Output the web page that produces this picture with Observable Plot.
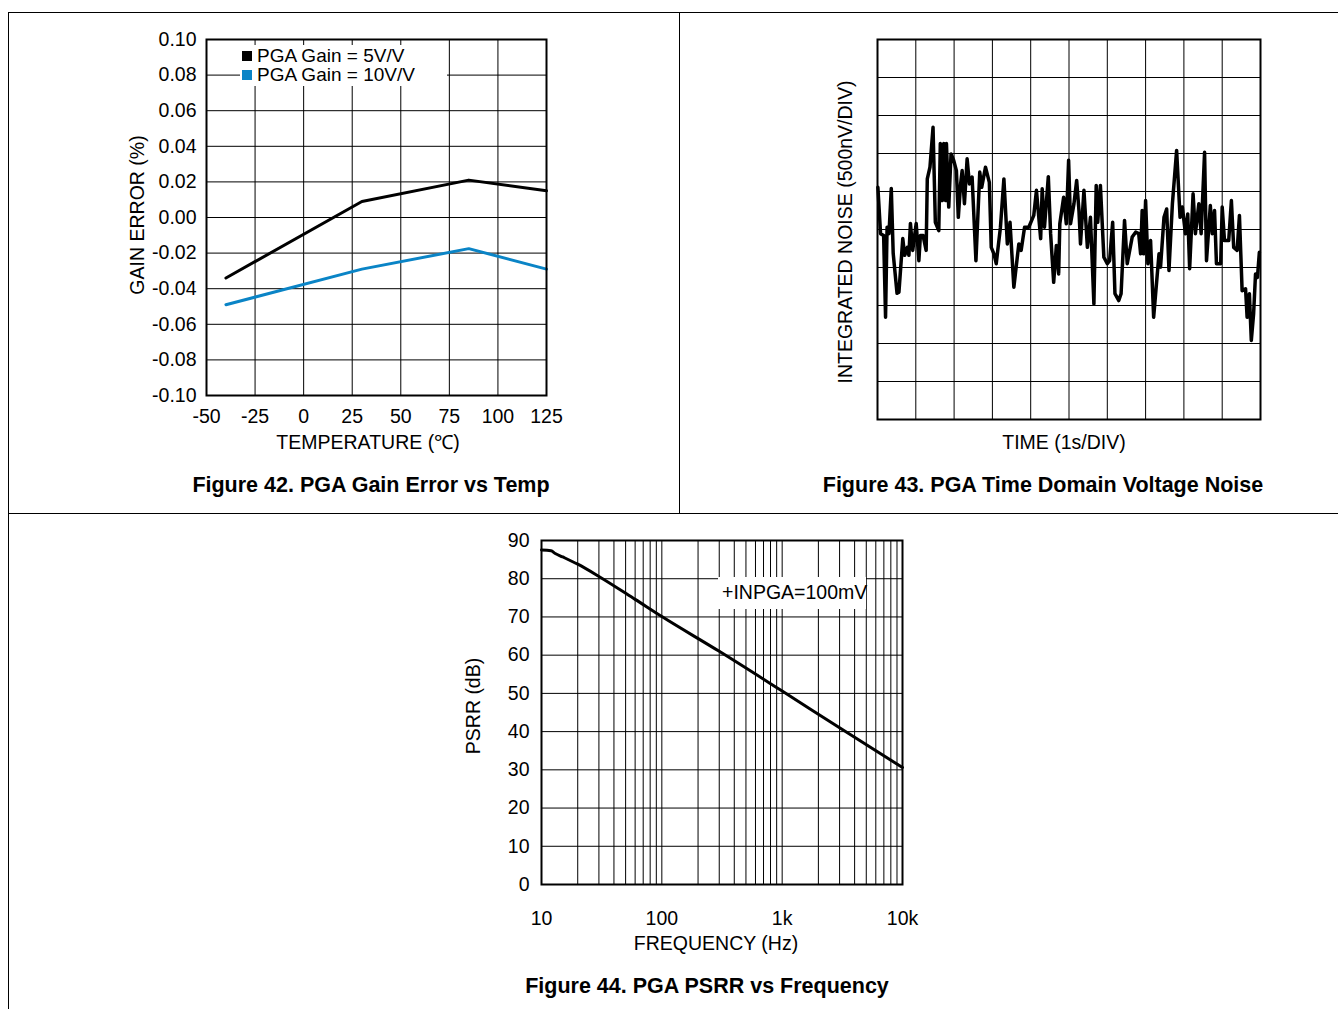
<!DOCTYPE html>
<html><head><meta charset="utf-8">
<script src="https://cdn.jsdelivr.net/npm/d3@7"></script>
<script src="https://cdn.jsdelivr.net/npm/@observablehq/plot@0.6"></script>
<style>
body{margin:0;background:#fff;font-family:"Liberation Sans",Arial,sans-serif;}
#root{position:relative;width:1338px;height:1009px;overflow:hidden;background:#fff;}
.c{position:absolute;transform:translate(-50%,-50%);white-space:nowrap;font-size:19.5px;color:#000;line-height:1;}
.r{transform:translate(-50%,-50%) rotate(-90deg);}
.title{font-weight:bold;font-size:21.5px;}
.ln{position:absolute;background:#000;}
.plot{position:absolute;}
</style></head><body><div id="root"></div>
<script>
// ---------- Figure 42 data ----------
const temps5 = [-40, 30, 85, 125];
const gainErr5 = [-0.034, 0.009, 0.021, 0.015];
const temps10 = [-40, 30, 85, 125];
const gainErr10 = [-0.049, -0.029, -0.0175, -0.029];
const tempTicks = [-50, -25, 0, 25, 50, 75, 100, 125];
const errTicks = [-0.10, -0.08, -0.06, -0.04, -0.02, 0.00, 0.02, 0.04, 0.06, 0.08, 0.10];
const seriesNames42 = ["PGA Gain = 5V/V", "PGA Gain = 10V/V"];
const seriesColors42 = ["#000000", "#0a84c6"];

// ---------- Figure 43 data (time in s, noise in divisions) ----------
const noiseT = [0.01,0.08,0.16,0.21,0.25,0.30,0.36,0.41,0.51,0.56,0.66,0.71,0.78,0.82,0.86,0.92,1.01,1.08,1.12,1.19,1.27,1.30,1.37,1.45,1.51,1.60,1.64,1.69,1.73,1.78,1.80,1.86,1.92,1.99,2.06,2.11,2.17,2.21,2.27,2.34,2.40,2.47,2.57,2.67,2.72,2.82,2.92,2.97,3.04,3.10,3.21,3.30,3.39,3.46,3.56,3.69,3.75,3.84,3.95,4.08,4.15,4.26,4.30,4.36,4.46,4.52,4.60,4.67,4.73,4.76,4.86,4.93,4.99,5.04,5.13,5.20,5.26,5.30,5.39,5.48,5.56,5.65,5.71,5.75,5.82,5.91,6.00,6.06,6.14,6.20,6.30,6.36,6.45,6.52,6.65,6.74,6.82,6.87,6.91,6.95,7.00,7.06,7.13,7.21,7.35,7.39,7.48,7.55,7.61,7.70,7.81,7.90,7.96,8.04,8.10,8.15,8.24,8.30,8.39,8.45,8.54,8.59,8.69,8.74,8.80,8.85,8.96,9.00,9.06,9.17,9.24,9.30,9.39,9.45,9.52,9.61,9.65,9.71,9.76,9.82,9.87,9.92,9.97];
const noiseV = [6.11,4.89,4.84,2.69,5.06,4.89,6.08,4.37,3.32,3.35,4.76,4.32,4.53,4.32,5.16,4.45,5.16,4.18,4.84,4.84,4.45,6.33,6.64,7.69,5.19,4.97,7.26,5.76,7.26,5.76,7.26,5.59,6.99,6.82,6.55,5.32,6.20,6.55,5.68,6.86,6.20,6.38,4.18,6.51,6.11,6.64,6.24,4.53,4.36,4.10,5.06,6.33,4.62,5.19,3.48,4.62,4.45,5.06,5.06,5.37,6.03,4.76,6.07,5.06,6.39,4.89,3.61,4.58,3.83,5.15,5.85,5.15,6.82,5.15,5.68,6.29,5.50,4.62,6.03,4.53,5.32,3.04,6.16,5.19,6.16,4.27,4.10,4.18,5.19,3.31,3.13,3.31,5.24,4.10,4.80,4.93,4.89,4.36,5.50,4.36,5.76,4.10,4.71,2.69,4.36,4.01,5.32,5.54,3.92,5.68,7.08,5.32,5.59,4.89,5.41,3.97,5.94,4.89,5.68,4.89,7.03,4.18,5.63,4.89,5.50,4.10,4.10,5.59,4.71,4.71,5.76,4.53,4.45,5.37,3.39,3.44,2.69,3.31,2.08,2.78,3.83,3.74,4.40];
const divTicks = [0,1,2,3,4,5,6,7,8,9,10];

// ---------- Figure 44 data ----------
const freqHz = [10, 12, 13, 15, 20, 30, 60, 100, 300, 1000, 3000, 10000];
const psrrDb = [87.5, 87.3, 86.6, 85.7, 83.8, 80.6, 74.6, 70.1, 61.0, 50.6, 41.0, 30.6];
const freqTicks = [10, 100, 1000, 10000];
const freqTickLabels = ["10", "100", "1k", "10k"];
const psrrTicks = [0, 10, 20, 30, 40, 50, 60, 70, 80, 90];

const root = document.getElementById("root");
const FONT = '"Liberation Sans", Arial, sans-serif';
const baseStyle = {fontFamily: FONT, fontSize: "19.5px", color: "#000", background: "transparent", overflow: "visible"};

function place(el, left, top) {
  el.classList.add("plot");
  el.style.left = left + "px";
  el.style.top = top + "px";
  root.appendChild(el);
}
function text(str, x, y, cls = "") {
  const d = document.createElement("div");
  d.className = "c " + cls;
  d.style.left = x + "px";
  d.style.top = y + "px";
  d.textContent = str;
  root.appendChild(d);
  return d;
}
function hline(x, y, w, t = 1) { const d = document.createElement("div"); d.className = "ln"; Object.assign(d.style, {left: x + "px", top: y + "px", width: w + "px", height: t + "px"}); root.appendChild(d); }
function vline(x, y, h, t = 1) { const d = document.createElement("div"); d.className = "ln"; Object.assign(d.style, {left: x + "px", top: y + "px", width: t + "px", height: h + "px"}); root.appendChild(d); }

// panel borders
hline(8, 12, 1330);
vline(8, 12, 997);
vline(679, 12, 501);
hline(8, 513, 1330);

// ---------- Figure 42 ----------
const d42 = [];
temps5.forEach((t, i) => d42.push({t, e: gainErr5[i], s: seriesNames42[0]}));
temps10.forEach((t, i) => d42.push({t, e: gainErr10[i], s: seriesNames42[1]}));
const p42 = Plot.plot({
  width: 480, height: 440,
  marginLeft: 106, marginRight: 34, marginTop: 19, marginBottom: 65,
  style: baseStyle,
  x: {domain: [-50, 125]},
  y: {domain: [-0.1, 0.1]},
  color: {domain: seriesNames42, range: seriesColors42},
  marks: [
    Plot.gridX(tempTicks, {stroke: "#000", strokeOpacity: 1, strokeWidth: 1}),
    Plot.gridY(errTicks, {stroke: "#000", strokeOpacity: 1, strokeWidth: 1}),
    Plot.axisX(tempTicks, {tickSize: 0, tickPadding: 14, tickFormat: d => String(d), label: null}),
    Plot.axisY(errTicks, {tickSize: 0, tickPadding: 10, tickFormat: d => d.toFixed(2), label: null}),
    Plot.line(d42, {x: "t", y: "e", z: "s", stroke: "s", strokeWidth: 3}),
    Plot.frame({stroke: "#000", strokeWidth: 2})
  ]
});
place(p42, 100, 20);
// legend
const leg = document.createElement("div");
Object.assign(leg.style, {position: "absolute", left: "240px", top: "45px", width: "207px", height: "41px", background: "#fff"});
root.appendChild(leg);
seriesNames42.forEach((n, i) => {
  const sq = document.createElement("div");
  Object.assign(sq.style, {position: "absolute", left: "242px", top: (51 + i * 19) + "px", width: "10px", height: "10px", background: seriesColors42[i]});
  root.appendChild(sq);
  const t = document.createElement("div");
  t.className = "c";
  Object.assign(t.style, {left: "257px", top: (55 + i * 19) + "px", transform: "translate(0,-50%)", lineHeight: "17px", fontSize: "19px"});
  t.textContent = n;
  root.appendChild(t);
});
text("GAIN ERROR (%)", 138, 215, "r");
text("TEMPERATURE (℃)", 368, 443);
text("Figure 42. PGA Gain Error vs Temp", 371, 486, "title");

// ---------- Figure 43 ----------
const d43 = noiseT.map((t, i) => ({t, v: noiseV[i]}));
const p43 = Plot.plot({
  width: 420, height: 420,
  marginLeft: 17, marginRight: 20, marginTop: 19, marginBottom: 21,
  style: baseStyle,
  x: {domain: [0, 10], axis: null},
  y: {domain: [0, 10], axis: null},
  marks: [
    Plot.gridX(divTicks, {stroke: "#000", strokeOpacity: 1, strokeWidth: 1}),
    Plot.gridY(divTicks, {stroke: "#000", strokeOpacity: 1, strokeWidth: 1}),
    Plot.line(d43, {x: "t", y: "v", stroke: "#000", strokeWidth: 3.5, strokeLinejoin: "round"}),
    Plot.frame({stroke: "#000", strokeWidth: 2})
  ]
});
place(p43, 860, 20);
text("INTEGRATED NOISE (500nV/DIV)", 846, 232, "r");
text("TIME (1s/DIV)", 1064, 443);
text("Figure 43. PGA Time Domain Voltage Noise", 1043, 486, "title");

// ---------- Figure 44 ----------
const logGrid = [];
for (const dec of [10, 100, 1000]) for (let k = 1; k < 10; k++) logGrid.push(dec * k);
logGrid.push(10000);
const d44 = freqHz.map((f, i) => ({f, p: psrrDb[i]}));
const p44 = Plot.plot({
  width: 500, height: 420,
  marginLeft: 101, marginRight: 38, marginTop: 20, marginBottom: 56,
  style: baseStyle,
  x: {type: "log", domain: [10, 10000]},
  y: {domain: [0, 90]},
  marks: [
    Plot.gridX(logGrid, {stroke: "#000", strokeOpacity: 1, strokeWidth: 1}),
    Plot.gridY(psrrTicks, {stroke: "#000", strokeOpacity: 1, strokeWidth: 1}),
    Plot.axisX(freqTicks, {tickSize: 0, tickPadding: 27, tickFormat: (d, i) => freqTickLabels[freqTicks.indexOf(d)], label: null}),
    Plot.axisY(psrrTicks, {tickSize: 0, tickPadding: 12, tickFormat: d => String(d), label: null}),
    Plot.line(d44, {x: "f", y: "p", stroke: "#000", strokeWidth: 3, curve: "monotone-x"}),
    Plot.frame({stroke: "#000", strokeWidth: 2})
  ]
});
place(p44, 440, 520);
const ann = document.createElement("div");
Object.assign(ann.style, {position: "absolute", left: "718px", top: "577px", width: "148px", height: "32px", background: "#fff"});
root.appendChild(ann);
const annT = text("+INPGA=100mV", 722, 593);
annT.style.transform = "translate(0,-50%)";
text("PSRR (dB)", 474, 706, "r");
text("FREQUENCY (Hz)", 716, 944);
text("Figure 44. PGA PSRR vs Frequency", 707, 987, "title");
</script></body></html>
